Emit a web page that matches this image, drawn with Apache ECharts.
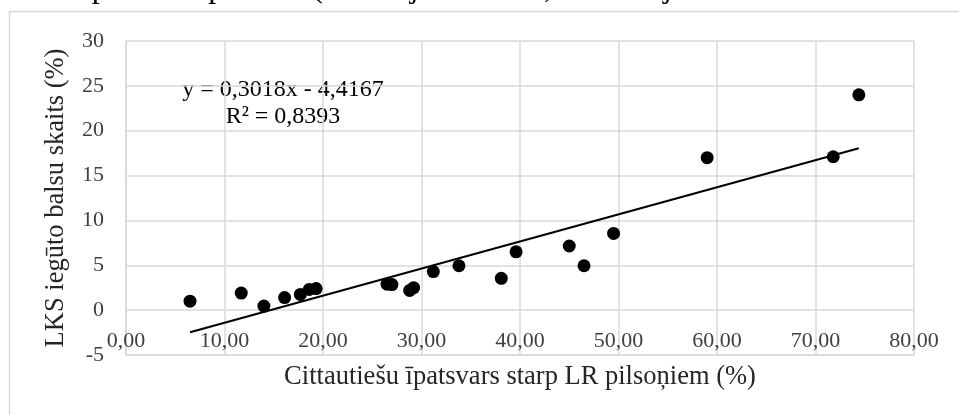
<!DOCTYPE html>
<html>
<head>
<meta charset="utf-8">
<script src="https://cdn.jsdelivr.net/npm/echarts@6/dist/echarts.min.js"></script>
<style>
    html, body { margin: 0; padding: 0; background: #fff; }
    #chart { width: 959px; height: 415px; }
</style>
</head>
<body>
<div id="chart"></div>
<script>
    // citizens of other nationalities (%) vs LKS vote share (%)
    let shareX = [6.5, 11.7, 14.0, 16.1, 17.7, 18.6, 19.3, 26.5, 27.0, 28.8, 29.2, 31.2, 33.8, 38.1, 39.6, 45.0, 46.5, 49.5, 59.0, 71.8, 74.4]
    let votesY = [1.0, 1.9, 0.45, 1.4, 1.75, 2.3, 2.4, 2.9, 2.85, 2.2, 2.5, 4.3, 4.95, 3.55, 6.5, 7.15, 4.95, 8.55, 17.0, 17.1, 24.0]
    // trend line coefficients shown on the chart
    let slope = 0.3018
    let intercept = -4.4167
    let xTicks = [0, 80, 10]
    let yTicks = [-5, 30, 5]

    let points = shareX.map((x, i) => [x, votesY[i]])
    let xMin = Math.min(...shareX)
    let xMax = Math.max(...shareX)
    let trend = [[xMin, slope * xMin + intercept], [xMax, slope * xMax + intercept]]

    let font = "'Liberation Serif', 'Times New Roman', serif"
    let gridColor = '#d9d9d9'

    let chart = echarts.init(document.getElementById('chart'))
    let option = {
        animation: false,
        grid: {
            left: 126,
            right: 45,
            top: 41,
            bottom: 60,
            outerBoundsMode: 'none',
            containLabel: false
        },
        graphic: [
            {
                type: 'rect',
                shape: { x: 9.5, y: 11.5, width: 1000, height: 500 },
                style: { fill: 'none', stroke: gridColor, lineWidth: 1.5 },
                z: -1
            },
            {
                // caption line of the page, cut off at the top
                type: 'text',
                x: 953,
                y: -11,
                style: {
                    text: 'ās un republikas pilsētās (sastādījusi autore, izmantojot CVK un CSP datus',
                    font: '32px ' + font,
                    fill: '#000',
                    align: 'right',
                    verticalAlign: 'middle'
                }
            },
            {
                type: 'text',
                x: 283,
                y: 90,
                style: {
                    text: 'y = 0,3018x - 4,4167',
                    font: '24px ' + font,
                    fill: '#000',
                    align: 'center',
                    verticalAlign: 'middle'
                }
            },
            {
                type: 'text',
                x: 283,
                y: 117,
                style: {
                    text: 'R² = 0,8393',
                    font: '24px ' + font,
                    fill: '#000',
                    align: 'center',
                    verticalAlign: 'middle'
                }
            }
        ],
        xAxis: {
            type: 'value',
            min: xTicks[0],
            max: xTicks[1],
            interval: xTicks[2],
            name: 'Cittautiešu īpatsvars starp LR pilsoņiem (%)',
            nameLocation: 'middle',
            nameGap: 9,
            nameTextStyle: { fontFamily: font, fontSize: 26.5, color: '#262626' },
            axisLine: { onZero: false, lineStyle: { color: gridColor, width: 1.5 } },
            axisTick: { show: false },
            // labels sit just under the zero line, as in the original
            axisLabel: {
                margin: -25,
                fontFamily: font,
                fontSize: 22,
                color: '#404040',
                formatter: v => v.toFixed(2).replace('.', ',')
            },
            splitLine: { lineStyle: { color: gridColor, width: 1.5 } }
        },
        yAxis: {
            type: 'value',
            min: yTicks[0],
            max: yTicks[1],
            interval: yTicks[2],
            name: 'LKS iegūto balsu skaits (%)',
            nameLocation: 'middle',
            nameGap: 56,
            nameTextStyle: { fontFamily: font, fontSize: 26.5, color: '#262626' },
            axisLine: { onZero: false, lineStyle: { color: gridColor, width: 1.5 } },
            axisTick: { show: false },
            axisLabel: {
                margin: 22,
                fontFamily: font,
                fontSize: 22,
                color: '#404040'
            },
            splitLine: { lineStyle: { color: gridColor, width: 1.5 } }
        },
        series: [
            {
                name: 'trend',
                type: 'line',
                data: trend,
                symbol: 'none',
                lineStyle: { color: '#000', width: 2 },
                z: 2
            },
            {
                name: 'LKS',
                type: 'scatter',
                data: points,
                symbol: 'circle',
                symbolSize: 13,
                itemStyle: { color: '#000', opacity: 1 },
                z: 3
            }
        ]
    }
    chart.setOption(option)
</script>
</body>
</html>
